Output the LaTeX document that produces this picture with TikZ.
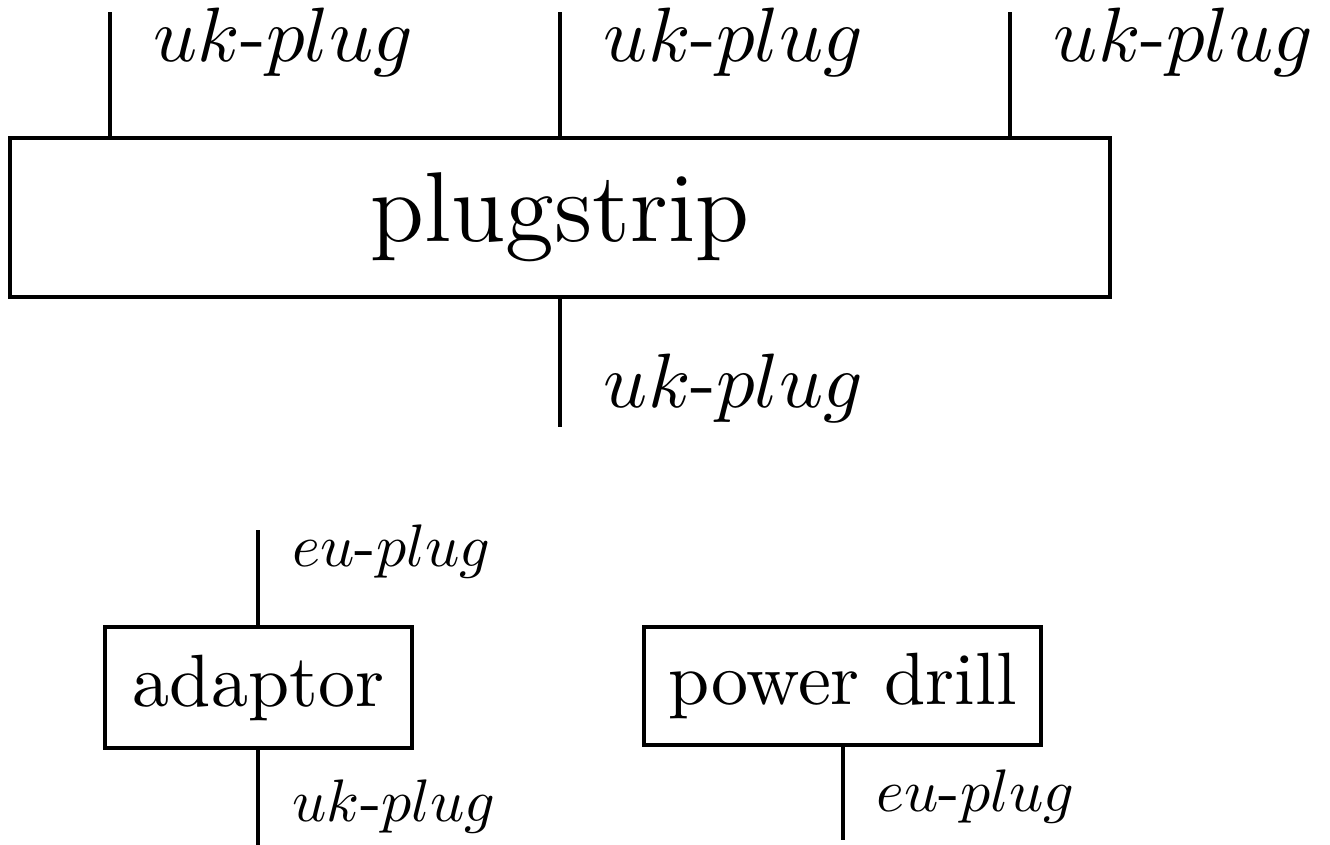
\documentclass[tikz,border=0pt]{standalone}
\usetikzlibrary{positioning}
\DeclareFontShape{OML}{cmm}{m}{it}{<->cmmi10}{\skewchar\font'177}
\tikzset{
  unit/.style={draw, inner sep=0pt},
  plug/.style={anchor=base west, inner sep=0pt},
  bigplug/.style={plug, font=\fontsize{10.4}{13}\selectfont},
  smallplug/.style={plug, font=\fontsize{8.1}{10}\selectfont},
}
\begin{document}
\begin{tikzpicture}[x=0.135pt, y=-0.135pt]
\useasboundingbox (0,0) rectangle (1330,845);
% plugstrip with three sockets and one plug
\begin{scope}[line width=0.52pt]
\node[unit, minimum width=148.5pt, minimum height=21.5pt, font=\fontsize{13.4}{15}\selectfont] (strip) at (560,217.5) {plugstrip};
\coordinate (s1) at (110,12);
\coordinate (s2) at (560,12);
\coordinate (s3) at (1010,12);
\coordinate (p0) at (560,427);
\draw (strip.north -| s1) -- (s1);
\draw (strip.north -| s2) -- (s2);
\draw (strip.north -| s3) -- (s3);
\draw (strip.south -| p0) -- (p0);
\node[bigplug] (ls1) at (152,62) {$uk$-$plug$};
\node[bigplug] (ls2) at (602,62) {$uk$-$plug$};
\node[bigplug] (ls3) at (1052,62) {$uk$-$plug$};
\node[bigplug] (lp0) at (602,408) {$uk$-$plug$};
\end{scope}
% adaptor
\begin{scope}[line width=0.45pt]
\node[unit, minimum width=41.4pt, minimum height=16.3pt] (adaptor) at (258.5,687.5) {adaptor};
\coordinate (a1) at (258,530);
\coordinate (a2) at (258,845);
\draw (adaptor.north -| a1) -- (a1);
\draw (adaptor.south -| a2) -- (a2);
\node[smallplug] (la1) at (291,567) {$eu$-$plug$};
\node[smallplug] (la2) at (291,822) {$uk$-$plug$};
% power drill
\node[unit, minimum width=53.6pt, minimum height=15.9pt] (drill) at (842.5,686) {power drill};
\coordinate (d1) at (843,840);
\draw (drill.south -| d1) -- (d1);
\node[smallplug] (ld1) at (875,812) {$eu$-$plug$};
\end{scope}
\end{tikzpicture}
\end{document}
